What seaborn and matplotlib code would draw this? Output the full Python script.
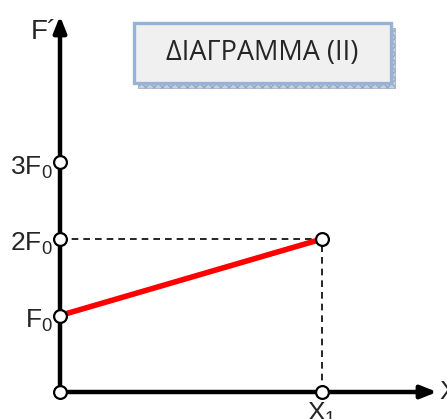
import matplotlib
matplotlib.use("Agg")
import matplotlib.pyplot as plt
import seaborn as sns
import pandas as pd
from matplotlib.patches import Rectangle

# data
x_vals = [0, 1]                 # x positions: 0 and x1
f_vals = [1, 2]                 # F' at 0 is F0, at x1 is 2F0
tick_vals = [1, 2, 3]
tick_labels = [r"$\mathregular{F_0}$", r"$\mathregular{2F_0}$", r"$\mathregular{3F_0}$"]
pt_x = [0, 0, 0, 0, 1, 1]
pt_y = [0, 1, 2, 3, 2, 0]
title_text = "ΔΙΑΓΡΑΜΜΑ (ΙΙ)"

sns.set_style("white")
plt.rcParams['font.family'] = ['Liberation Sans', 'DejaVu Sans']
plt.rcParams['mathtext.fontset'] = 'custom'
plt.rcParams['mathtext.rm'] = 'Liberation Sans'

W, H = 447, 419
fig = plt.figure(figsize=(W / 100, H / 100), dpi=100)
ax = fig.add_axes([0, 0, 1, 1])
ox, oy = 60, 392          # origin pixel (from top)
ux, uy = 262, 76.5        # pixels per unit
ax.set_xlim(-ox / ux, (W - ox) / ux)
ax.set_ylim(-(H - oy) / uy, oy / uy)
ax.axis("off")

def px(x, y):
    return ((x - ox) / ux, (oy - y) / uy)

# dashed guides
ax.plot([0, 1], [2, 2], color="black", lw=1.2, ls=(0, (4, 3)), zorder=1)
ax.plot([1, 1], [0, 2], color="black", lw=1.2, ls=(0, (4, 3)), zorder=1)

# axes arrows
ax.annotate("", xy=px(60, 16), xytext=px(60, 392),
            arrowprops=dict(arrowstyle="-|>,head_length=0.95,head_width=0.38",
                            color="black", lw=3.2, shrinkA=0, shrinkB=0), zorder=2)
ax.annotate("", xy=px(437, 392), xytext=px(60, 392),
            arrowprops=dict(arrowstyle="-|>,head_length=0.95,head_width=0.38",
                            color="black", lw=3.2, shrinkA=0, shrinkB=0), zorder=2)

# red line
df = pd.DataFrame({"x": x_vals, "F": f_vals})
sns.lineplot(data=df, x="x", y="F", color="red", lw=4, ax=ax, zorder=3)

# markers
dp = pd.DataFrame({"x": pt_x, "y": pt_y})
sns.scatterplot(data=dp, x="x", y="y", s=85, color="white", edgecolor="black",
                linewidth=1.6, ax=ax, zorder=5)
ax.set_xlabel("")
ax.set_ylabel("")

# y labels
for v, lab in zip(tick_vals, tick_labels):
    ax.text(-7 / ux, v - 5 / uy, lab, ha="right", va="center", fontsize=19)

ax.text(*px(44, 32), "F´", ha="center", va="center", fontsize=20)
ax.text(*px(439, 392), r"$\mathregular{X}$", ha="left", va="center", fontsize=19)
ax.text(1, -9 / uy, r"$\mathregular{X_1}$", ha="center", va="top", fontsize=19)

# title box with shadow
sx0, sy0 = px(138, 88)
b0 = px(134, 83)
b1 = px(391, 23)
shadow = Rectangle((sx0, sy0), b1[0] - b0[0], b1[1] - b0[1], facecolor="#c7cfdc",
                   edgecolor="#9aa8c0", hatch="xxxx", lw=0.5, zorder=6)
ax.add_patch(shadow)
box = Rectangle(b0, b1[0] - b0[0], b1[1] - b0[1], facecolor="#f0f0f0",
                edgecolor="#95b3d7", lw=2.4, zorder=7)
ax.add_patch(box)
ax.text((b0[0] + b1[0]) / 2, (b0[1] + b1[1]) / 2, title_text, ha="center", va="center",
        fontsize=19.5, family=["Open Sans", "DejaVu Sans"], zorder=8)

fig.savefig("out.png", dpi=100)
